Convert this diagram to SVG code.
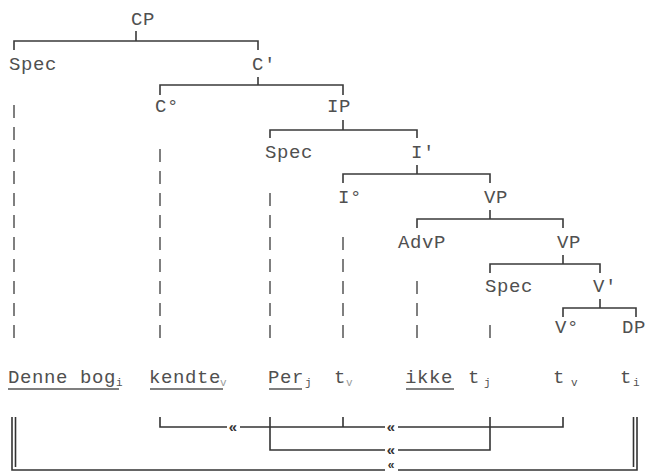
<svg xmlns="http://www.w3.org/2000/svg" width="654" height="472" viewBox="0 0 654 472">
<style>
  .lbl { font-family: "Liberation Mono", "Courier New", monospace; font-size: 19px; letter-spacing: 0.6px; fill: #505050; }
  .sub { font-family: "Liberation Mono", "Courier New", monospace; font-size: 11px; fill: #505050; }
  .sub.light { fill: #9a9a9a; }
  .br { fill: none; stroke: #3a3a3a; stroke-width: 1.6; }
  .dash { fill: none; stroke: #555; stroke-width: 1.5; stroke-dasharray: 13 9; }
  .ul { fill: none; stroke: #555; stroke-width: 1.5; }
  .con { fill: none; stroke: #333; stroke-width: 1.6; }
  .chev { font-family: "Liberation Sans", Arial, sans-serif; font-size: 15px; font-weight: bold; fill: #333; text-anchor: middle; }
</style>
<rect width="654" height="472" fill="#ffffff"/>

<g id="CP"><text class="lbl" x="131" y="25">CP</text><path class="br" d="M136,31 V41 M14,50 V41 H258 V50"/></g>
<g id="SpecCP"><text class="lbl" x="9" y="70">Spec</text></g>
<g id="Cbar"><text class="lbl" x="252" y="70">C'</text><path class="br" d="M258,77 V85 M160,95 V85 H343 V95"/></g>
<g id="C0"><text class="lbl" x="155" y="112">C°</text></g>
<g id="IP"><text class="lbl" x="327" y="112">IP</text><path class="br" d="M343,120 V130 M270,138 V130 H417 V138"/></g>
<g id="SpecIP"><text class="lbl" x="265" y="158">Spec</text></g>
<g id="Ibar"><text class="lbl" x="411" y="158">I'</text><path class="br" d="M417,165 V174 M343,183 V174 H490 V183"/></g>
<g id="I0"><text class="lbl" x="338" y="203">I°</text></g>
<g id="VP1"><text class="lbl" x="484" y="203">VP</text><path class="br" d="M490,210 V219 M417,228 V219 H563 V228"/></g>
<g id="AdvP"><text class="lbl" x="398" y="248">AdvP</text></g>
<g id="VP2"><text class="lbl" x="557" y="248">VP</text><path class="br" d="M563,255 V264 M490,273 V264 H600 V273"/></g>
<g id="SpecVP"><text class="lbl" x="485" y="292">Spec</text></g>
<g id="Vbar"><text class="lbl" x="593" y="292">V'</text><path class="br" d="M600,299 V308 M563,317 V308 H636 V317"/></g>
<g id="V0"><text class="lbl" x="555" y="333">V°</text></g>
<g id="DP"><text class="lbl" x="622" y="333">DP</text></g>

<g id="dashes">
  <path class="dash" d="M14,338 V100"/>
  <path class="dash" d="M160,338 V147"/>
  <path class="dash" d="M270,338 V190"/>
  <path class="dash" d="M343,338 V235"/>
  <path class="dash" d="M417,338 V280"/>
  <path class="dash" d="M490,338 V322"/>
</g>

<g id="leaves">
  <g id="leaf-denne"><text class="lbl" x="8" y="383">Denne bog</text><text class="sub" x="116" y="386">i</text><path class="ul" d="M8,389 H119"/></g>
  <g id="leaf-kendte"><text class="lbl" x="149" y="383">kendte</text><text class="sub light" x="220" y="386">v</text><path class="ul" d="M150,389 H223"/></g>
  <g id="leaf-per"><text class="lbl" x="268" y="383">Per</text><text class="sub" x="305" y="386">j</text><path class="ul" d="M269,389 H302"/></g>
  <g id="leaf-tv1"><text class="lbl" x="334" y="383">t</text><text class="sub light" x="346" y="386">v</text></g>
  <g id="leaf-ikke"><text class="lbl" x="405" y="383">ikke</text><path class="ul" d="M406,389 H454"/></g>
  <g id="leaf-tj"><text class="lbl" x="468" y="383">t</text><text class="sub" x="484" y="386">j</text></g>
  <g id="leaf-tv2"><text class="lbl" x="553" y="383">t</text><text class="sub" x="571" y="386">v</text></g>
  <g id="leaf-ti"><text class="lbl" x="620" y="383">t</text><text class="sub" x="633" y="386">i</text></g>
</g>

<g id="connectors">
  <path class="con" d="M160,417 V427 H227 M240,427 H385 M398,427 H563 V417"/>
  <path class="con" d="M343,417 V427"/>
  <path class="con" d="M270,417 V450 H385 M398,450 H490 V417"/>
  <path class="con" d="M12,417 V470 H385 M398,470 H637 V417"/>
  <path class="con" d="M15.5,417 V467"/>
  <path class="con" d="M633.5,417 V467"/>
  <text class="chev" x="233" y="432">«</text>
  <text class="chev" x="391" y="432">«</text>
  <text class="chev" x="391" y="455">«</text>
  <text class="chev" x="391" y="469" style="font-size:12px">«</text>
</g>
</svg>
